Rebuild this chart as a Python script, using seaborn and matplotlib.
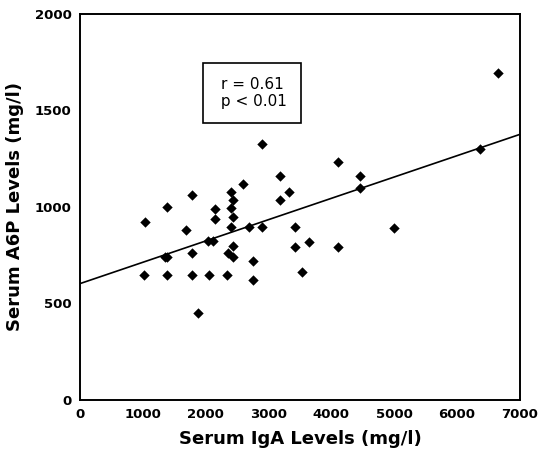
import matplotlib
matplotlib.use("Agg")
import matplotlib.pyplot as plt
import numpy as np
import pandas as pd
import seaborn as sns
from matplotlib.ticker import MultipleLocator

# values
iga = [2890, 3182, 3325, 3182, 2593, 2397, 2439, 2397, 2439, 2397,
       2694, 2890, 2148, 2148, 1787, 1379, 1040, 1692, 2042, 2121,
       1787, 1352, 1379, 2439, 2349, 2439, 2752, 2752, 3420, 3420,
       3643, 3526, 1018, 1379, 1787, 2052, 2344, 1872, 4099, 4460,
       4460, 4990, 4099, 6363, 6650]
a6p = [1325, 1161, 1078, 1036, 1121, 1078, 1036, 996, 946, 896,
       896, 898, 988, 938, 1064, 998, 924, 881, 822, 822,
       763, 741, 741, 796, 762, 739, 720, 620, 896, 794,
       819, 662, 649, 649, 649, 649, 649, 449, 1235, 1159,
       1100, 893, 794, 1299, 1694]
line_intercept = 603
line_slope = 0.1104
stats_text = "r = 0.61\n p < 0.01"

df = pd.DataFrame({"IgA": iga, "A6P": a6p})

sns.set_style("white")
plt.rcParams["font.family"] = ["DejaVu Sans"]
plt.rcParams.update({"text.color": "black", "axes.labelcolor": "black",
                     "xtick.color": "black", "ytick.color": "black"})

fig = plt.figure(figsize=(5.46, 4.63), dpi=100)
ax = fig.add_axes([0.1465, 0.136, 0.8055, 0.834])

sns.scatterplot(data=df, x="IgA", y="A6P", marker="D", s=28, color="black",
                edgecolor="black", linewidth=0, ax=ax)
ax.axline((0, line_intercept), slope=line_slope, color="black", lw=1.2)

ax.set_xlim(0, 7000)
ax.set_ylim(0, 2000)
ax.xaxis.set_major_locator(MultipleLocator(1000))
ax.xaxis.set_minor_locator(MultipleLocator(500))
ax.yaxis.set_major_locator(MultipleLocator(500))
ax.yaxis.set_minor_locator(MultipleLocator(250))
ax.tick_params(axis="x", which="both", direction="in", length=4, width=1.2,
               labelsize=9.5, pad=6)
ax.tick_params(axis="y", which="both", direction="inout", length=6, width=1.2,
               labelsize=9.5, pad=3)
ax.tick_params(axis="both", which="minor", length=3)
for lab in ax.get_xticklabels() + ax.get_yticklabels():
    lab.set_fontweight("bold")
for sp in ax.spines.values():
    sp.set_color("black")
    sp.set_linewidth(1.4)

ax.set_xlabel("Serum IgA Levels (mg/l)", fontsize=13, fontweight="bold", labelpad=6)
ax.set_ylabel("Serum A6P Levels (mg/l)", fontsize=13, fontweight="bold", labelpad=8)

ax.text(2736, 1590, stats_text, ha="center", va="center", fontsize=11,
        color="black",
        bbox=dict(boxstyle="square,pad=0.9", facecolor="white",
                  edgecolor="black", lw=1.2))

fig.savefig("out.png", dpi=100)
